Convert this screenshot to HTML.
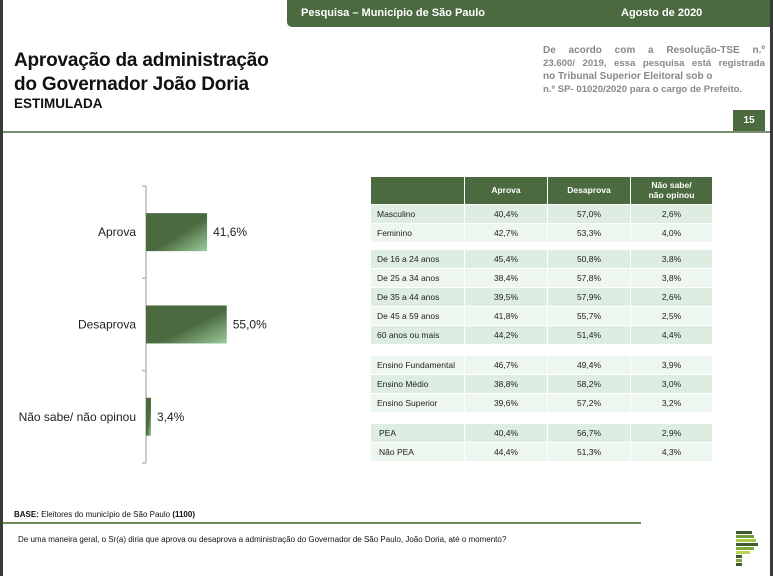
<!DOCTYPE html>
<html><head><meta charset="utf-8"><style>
body{margin:0;width:773px;height:576px;overflow:hidden;background:#fff;font-family:"Liberation Sans",sans-serif;position:relative}
.a{position:absolute}
.c{position:absolute;font-size:8.5px;color:#222;line-height:18px;height:18px}
.j{text-align:justify;text-align-last:justify;white-space:nowrap}
</style></head><body>
<div class="a" style="left:0;top:0;width:3px;height:576px;background:#3a3a3a"></div>
<div class="a" style="left:770px;top:0;width:3px;height:576px;background:#3a3a3a"></div>
<div class="a" style="left:287px;top:0;width:483px;height:27px;background:#4b6a3f;border-bottom-left-radius:5px"></div>
<div class="a" style="left:301px;top:7px;font-size:11px;font-weight:bold;color:#fff">Pesquisa – Município de São Paulo</div>
<div class="a" style="left:621px;top:7px;font-size:11px;font-weight:bold;color:#fff">Agosto de 2020</div>
<div class="a" style="left:14px;top:49px;font-size:19px;font-weight:bold;color:#111;line-height:24px;letter-spacing:-0.2px">Aprovação da administração<br>do Governador João Doria</div>
<div class="a" style="left:14px;top:96px;font-size:13.5px;font-weight:bold;color:#111">ESTIMULADA</div>
<div class="a" style="left:543px;top:44px;width:222px;font-size:10px;font-weight:bold;color:#888;line-height:13px">
<div class="j">De acordo com a Resolução-TSE n.º</div>
<div class="j" style="font-size:9.6px">23.600/ 2019, essa pesquisa está registrada</div>
<div>no Tribunal Superior Eleitoral sob o</div>
<div style="font-size:9.6px">n.º SP- 01020/2020 para o cargo de Prefeito.</div>
</div>
<div class="a" style="left:733px;top:110px;width:32px;height:21px;background:#4b6a3f;color:#fff;font-size:10px;font-weight:bold;text-align:center;line-height:21px">15</div>
<div class="a" style="left:3px;top:131px;width:767px;height:2px;background:#7d8f72"></div>

<svg class="a" style="left:0;top:0" width="773" height="576">
<defs><linearGradient id="g" x1="0" y1="0" x2="1" y2="1"><stop offset="0.55" stop-color="#4b6a3f"/><stop offset="1" stop-color="#9ccc9c"/></linearGradient></defs>
<g id="chart"></g>
</svg>

<div id="tbl"></div>

<div class="a" style="left:14px;top:510px;font-size:8px;color:#111"><b>BASE:</b> Eleitores do município de São Paulo <b>(1100)</b></div>
<div class="a" style="left:3px;top:522px;width:638px;height:2px;background:#6d8a5a"></div>
<div class="a" style="left:18px;top:535px;font-size:8px;color:#111">De uma maneira geral, o Sr(a) diria que aprova ou desaprova a administração do Governador de São Paulo, João Doria, até o momento?</div>
<svg class="a" style="left:736px;top:531px" width="26" height="45">
<rect x="0" y="0" width="16" height="3" fill="#3d5a2e"/><rect x="0" y="4" width="18" height="3" fill="#6d9a3a"/><rect x="0" y="8" width="20" height="3" fill="#a8c94a"/><rect x="0" y="12" width="22" height="3" fill="#3d5a2e"/><rect x="0" y="16" width="18" height="3" fill="#7da83c"/><rect x="0" y="20" width="14" height="3" fill="#b8d45a"/><rect x="0" y="24" width="6" height="3" fill="#3d5a2e"/><rect x="0" y="28" width="6" height="3" fill="#7da83c"/><rect x="0" y="32" width="6" height="3" fill="#3d5a2e"/>
</svg>

<script>
const categories=["Aprova","Desaprova","Não sabe/ não opinou"];
const values=[41.6,55.0,3.4];
const labels=["41,6%","55,0%","3,4%"];
const NS="http://www.w3.org/2000/svg";
const g=document.getElementById('chart');
const x0=146, pxPer=1.468, yTop=186, band=92.3;
const xs=v=>x0+v*pxPer;
const yc=i=>yTop+band*(i+0.5);
function mk(t,a){const e=document.createElementNS(NS,t);for(const k in a)e.setAttribute(k,a[k]);g.appendChild(e);return e;}
let ax=mk('line',{x1:x0,y1:yTop,x2:x0,y2:yTop+band*3,stroke:'#bbb','stroke-width':1.5});


for(let i=0;i<=3;i++){let t=mk('line',{x1:x0-4,y1:yTop+band*i,x2:x0,y2:yTop+band*i,stroke:'#bbb','stroke-width':1.5});

}
categories.forEach((c,i)=>{
 let r=mk('rect',{x:x0,y:yc(i)-19,width:xs(values[i])-x0,height:38,fill:'url(#g)'});
 
 
 let l=mk('text',{x:x0-10,y:yc(i)+4,'text-anchor':'end','font-size':12,fill:'#222','font-family':'Liberation Sans'});l.textContent=c;
 
 
 let v=mk('text',{x:xs(values[i])+6,y:yc(i)+4,'font-size':12,fill:'#222','font-family':'Liberation Sans'});v.textContent=labels[i];
 
 
});

const rowLabels=["Masculino","Feminino","De 16 a 24 anos","De 25 a 34 anos","De 35 a 44 anos","De 45 a 59 anos","60 anos ou mais","Ensino Fundamental","Ensino Médio","Ensino Superior","PEA","Não PEA"];
const aprova=["40,4%","42,7%","45,4%","38,4%","39,5%","41,8%","44,2%","46,7%","38,8%","39,6%","40,4%","44,4%"];
const desaprova=["57,0%","53,3%","50,8%","57,8%","57,9%","55,7%","51,4%","49,4%","58,2%","57,2%","56,7%","51,3%"];
const naoSabe=["2,6%","4,0%","3,8%","3,8%","2,6%","2,5%","4,4%","3,9%","3,0%","3,2%","2,9%","4,3%"];
const rowTops=[205,224,250,269,288,307,326,356,375,394,424,443];
const tbl=document.getElementById('tbl');
const colX=[371,465,548,631], colW=[93,82,82,81];
function cell(x,y,w,h,bg,txt,align,name,extra){const d=document.createElement('div');d.className='c';
 d.style.cssText+=`left:${x}px;top:${y}px;width:${w}px;height:${h}px;background:${bg};text-align:${align};`+(extra||'');
 d.innerHTML=txt;
 
 
 tbl.appendChild(d);}
const hdr=["","Aprova","Desaprova","Não sabe/<br>não opinou"];
hdr.forEach((h,j)=>cell(colX[j],177,colW[j],27,'#4b6a3f',h,'center','table-header',`color:#fff;font-weight:bold;line-height:${j==3?'10px':'27px'};${j==3?'padding-top:3px;height:24px;':''}`));
rowLabels.forEach((r,i)=>{
 const bg=(i%2==0)?'#deede2':'#eef6f0';
 const pad=i>=10?'padding-left:8px;width:85px;':'padding-left:6px;width:87px;';
 cell(colX[0],rowTops[i],colW[0],18,bg,r,'left','row-label',pad);
 cell(colX[1],rowTops[i],colW[1],18,bg,aprova[i],'center','cell-aprova');
 cell(colX[2],rowTops[i],colW[2],18,bg,desaprova[i],'center','cell-desaprova');
 cell(colX[3],rowTops[i],colW[3],18,bg,naoSabe[i],'center','cell-nao-sabe');
});
</script>
</body></html>
